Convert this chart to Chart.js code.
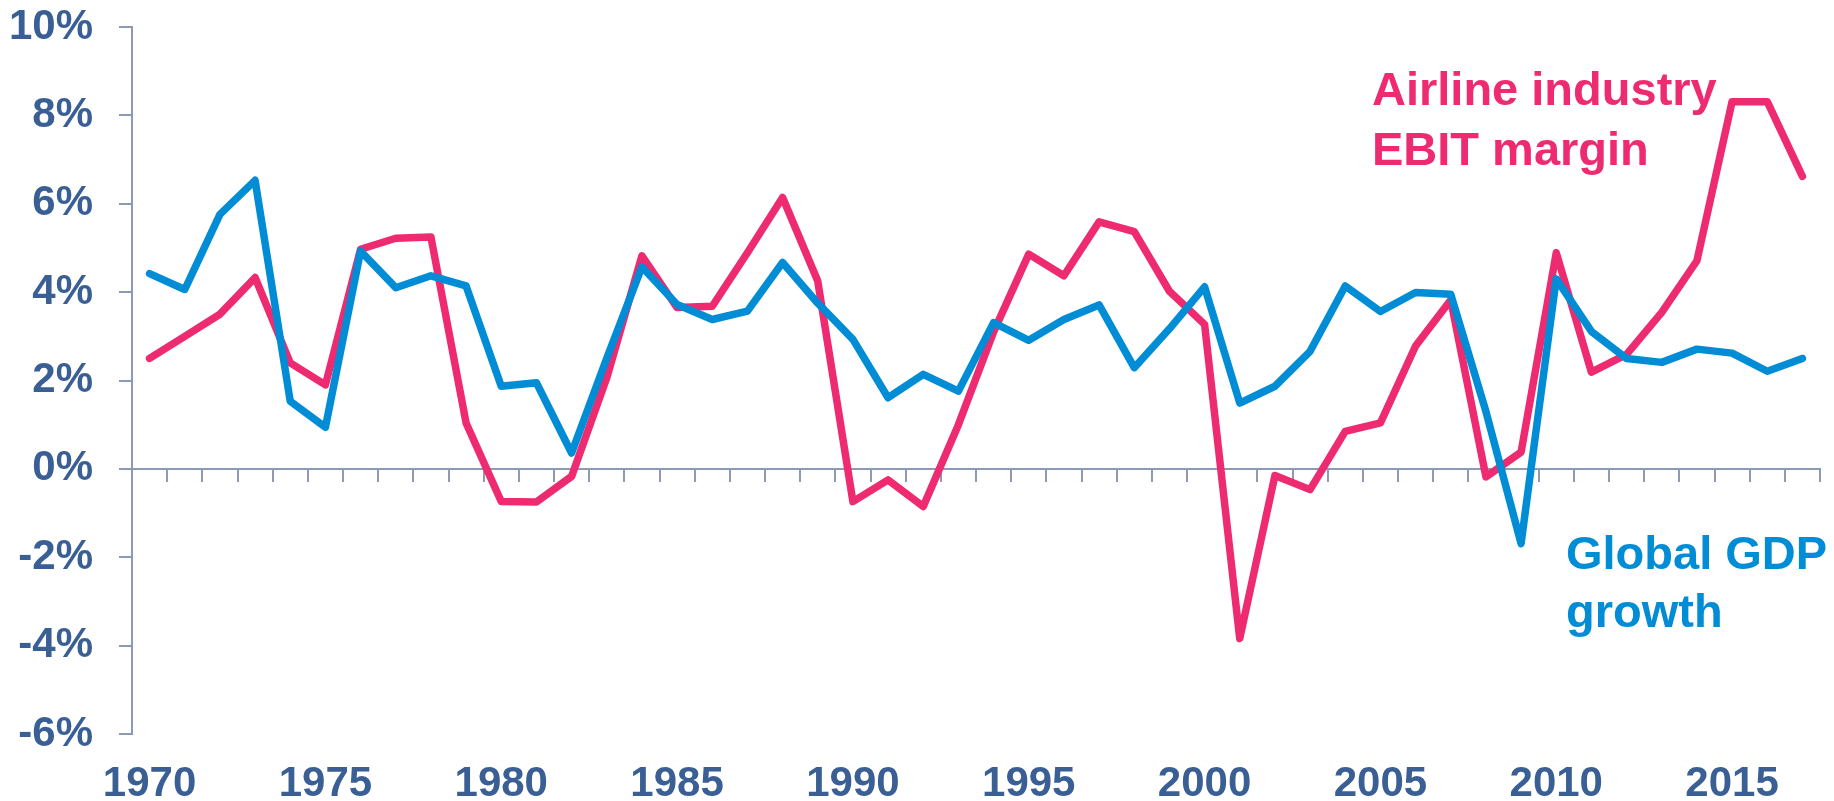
<!DOCTYPE html>
<html>
<head>
<meta charset="utf-8">
<script src="https://cdn.jsdelivr.net/npm/chart.js@4"></script>
<style>
  html, body { margin: 0; padding: 0; background: #ffffff; }
  #wrap { width: 1834px; height: 801px; }
</style>
</head>
<body>
<div id="wrap"><canvas id="myChart" width="1834" height="801"></canvas></div>
<script>
const years = [
    1970, 1971, 1972, 1973, 1974, 1975, 1976, 1977, 1978, 1979,
    1980, 1981, 1982, 1983, 1984, 1985, 1986, 1987, 1988, 1989,
    1990, 1991, 1992, 1993, 1994, 1995, 1996, 1997, 1998, 1999,
    2000, 2001, 2002, 2003, 2004, 2005, 2006, 2007, 2008, 2009,
    2010, 2011, 2012, 2013, 2014, 2015, 2016, 2017,
];

// global GDP growth, %
const gdpGrowth = [
    4.42, 4.06, 5.76, 6.53, 1.53, 0.94, 4.93, 4.1, 4.37, 4.14,
    1.87, 1.95, 0.36, 2.5, 4.57, 3.72, 3.38, 3.57, 4.67, 3.75,
    2.93, 1.61, 2.14, 1.76, 3.31, 2.91, 3.38, 3.71, 2.29, 3.17,
    4.12, 1.49, 1.87, 2.66, 4.14, 3.56, 3.99, 3.95, 1.3, -1.69,
    4.3, 3.11, 2.5, 2.41, 2.71, 2.62, 2.21, 2.5,
];

// airline industry EBIT margin, %
const ebitMargin = [
    2.5, 3.0, 3.5, 4.33, 2.4, 1.9, 4.97, 5.22, 5.25, 1.04,
    -0.74, -0.75, -0.17, 2.06, 4.82, 3.65, 3.68, 4.89, 6.14, 4.25,
    -0.74, -0.25, -0.85, 1.0, 3.1, 4.86, 4.37, 5.59, 5.37, 4.02,
    3.27, -3.84, -0.15, -0.47, 0.85, 1.04, 2.78, 3.82, -0.18, 0.38,
    4.89, 2.19, 2.59, 3.54, 4.71, 8.31, 8.31, 6.62,
];

const yTicks = [-6, -4, -2, 0, 2, 4, 6, 8, 10];

const pink = "#ee2a70";
const blue = "#008dd6";
const labelColor = "#3a5f94";
const axisColor = "#8c9ab6";
const fontFamily = "'Liberation Sans', Arial, sans-serif";

// the two text labels next to the lines
const seriesLabels = {
    id: "seriesLabels",
    afterDraw(chart) {
        const ctx = chart.ctx;
        ctx.save();
        ctx.font = "bold 47px " + fontFamily;
        ctx.textAlign = "left";
        ctx.textBaseline = "alphabetic";
        ctx.fillStyle = pink;
        ctx.fillText("Airline industry", 1372, 105);
        ctx.fillText("EBIT margin", 1372, 165);
        ctx.fillStyle = blue;
        ctx.fillText("Global GDP", 1566, 569);
        ctx.fillText("growth", 1566, 627);
        ctx.restore();
    },
};

const ctx = document.getElementById("myChart");
const chart = new Chart(ctx, {
    type: "line",
    data: {
        labels: years.map((y) => y + ""),
        datasets: [
            {
                label: "Global GDP growth",
                data: gdpGrowth,
                borderColor: blue,
                borderWidth: 7.5,
                pointRadius: 0,
                tension: 0,
                borderJoinStyle: "round",
                borderCapStyle: "round",
            },
            {
                label: "Airline industry EBIT margin",
                data: ebitMargin,
                borderColor: pink,
                borderWidth: 7.5,
                pointRadius: 0,
                tension: 0,
                borderJoinStyle: "round",
                borderCapStyle: "round",
            },
        ],
    },
    options: {
        responsive: false,
        animation: false,
        devicePixelRatio: 1,
        layout: {
            padding: { top: 27, right: 14, bottom: 0, left: 0 },
        },
        plugins: {
            legend: { display: false },
            tooltip: { enabled: false },
        },
        scales: {
            x: {
                type: "category",
                position: "bottom",
                offset: true,
                grid: { display: false, drawTicks: false },
                border: { display: false },
                ticks: {
                    autoSkip: false,
                    maxRotation: 0,
                    padding: 29,
                    color: labelColor,
                    font: { family: fontFamily, size: 42, weight: "bold", lineHeight: 1 },
                    callback: function (value, index) {
                        return years[index] % 5 == 0 ? years[index] + "" : "";
                    },
                },
                afterFit: function (scale) {
                    scale.height = 67;
                },
            },
            // axis line at zero with the small year ticks
            x2: {
                type: "category",
                position: { y: 0 },
                offset: true,
                grid: {
                    offset: true,
                    drawOnChartArea: false,
                    drawTicks: true,
                    tickLength: 12,
                    color: axisColor,
                    lineWidth: 2,
                },
                border: { color: axisColor, width: 2 },
                ticks: { display: false },
            },
            y: {
                min: -6,
                max: 10,
                afterBuildTicks: function (scale) {
                    scale.ticks = yTicks.map((v) => ({ value: v }));
                },
                grid: {
                    drawOnChartArea: false,
                    tickLength: 13,
                    color: axisColor,
                    lineWidth: 2,
                },
                border: { color: axisColor, width: 2 },
                ticks: {
                    padding: 26,
                    color: labelColor,
                    font: { family: fontFamily, size: 42, weight: "bold" },
                    callback: function (value) {
                        return value + "%";
                    },
                },
                afterFit: function (scale) {
                    scale.width = 132;
                    // labels may overhang, the top margin is set by layout padding
                    scale.paddingTop = 0;
                    scale.paddingBottom = 0;
                },
            },
        },
    },
    plugins: [seriesLabels],
});
</script>
</body>
</html>
